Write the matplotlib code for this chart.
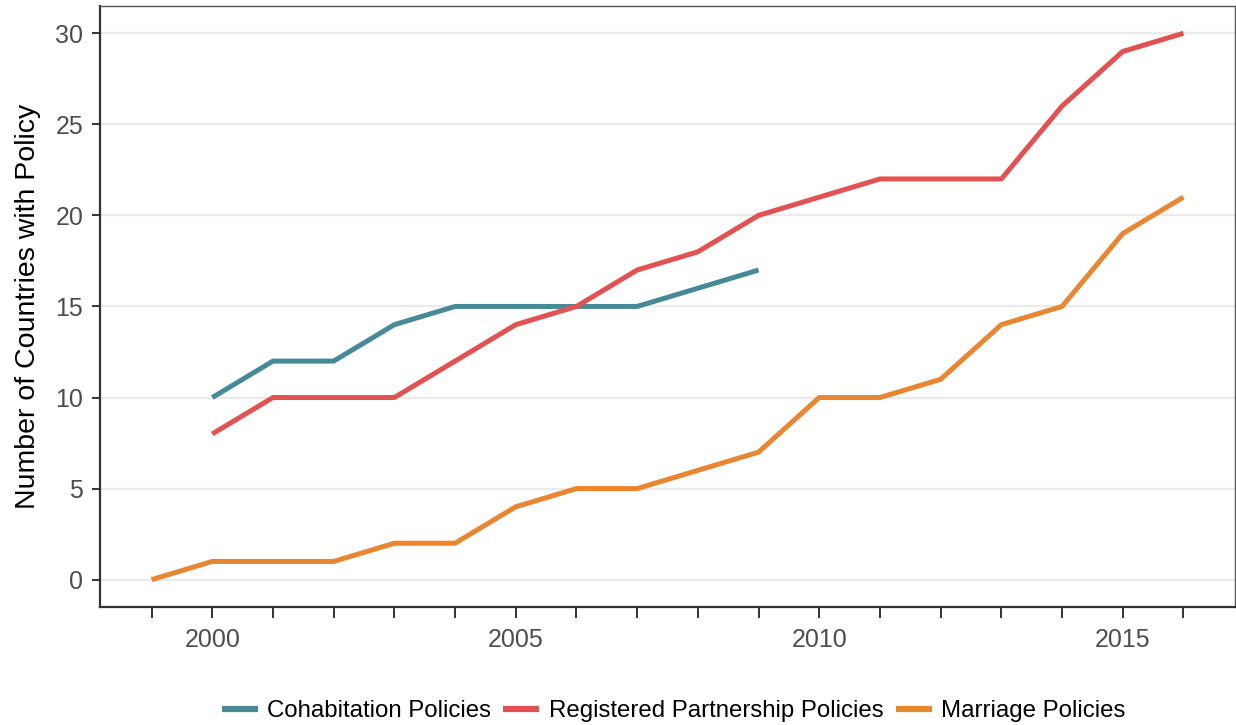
import numpy as np
import matplotlib.pyplot as plt

plt.rcParams['font.family'] = ['Liberation Sans', 'DejaVu Sans']

# data
cohab_years = [2000, 2001, 2002, 2003, 2004, 2005, 2006, 2007, 2008, 2009]
cohab = [10, 12, 12, 14, 15, 15, 15, 15, 16, 17]

reg_years = list(range(2000, 2017))
reg = [8, 10, 10, 10, 12, 14, 15, 17, 18, 20, 21, 22, 22, 22, 26, 29, 30]

marr_years = list(range(1999, 2017))
marr = [0, 1, 1, 1, 2, 2, 4, 5, 5, 6, 7, 10, 10, 11, 14, 15, 19, 21]

labels = ["Cohabitation Policies", "Registered Partnership Policies", "Marriage Policies"]
colors = ["#468A98", "#E35152", "#E98632"]

fig = plt.figure(figsize=(12.36, 7.25), dpi=100)
ax = fig.add_axes([0.0809, 0.1628, 0.9183, 0.829])

for yrs, vals, lab, c in zip([cohab_years, reg_years, marr_years], [cohab, reg, marr], labels, colors):
    ax.plot(yrs, vals, color=c, lw=3.6, label=lab, solid_capstyle='butt')

ax.set_xlim(1998.15, 2016.85)
ax.set_ylim(-1.5, 31.5)
ax.set_xticks([2000, 2005, 2010, 2015])
ax.set_xticks(range(1999, 2017), minor=True)
ax.set_yticks([0, 5, 10, 15, 20, 25, 30])
ax.yaxis.grid(True, color="#EBEBEB", lw=1.6)
ax.set_axisbelow(True)

ax.tick_params(axis='both', which='both', direction='out', color='#333333', width=1.4, labelcolor='#4D4D4D', labelsize=18)
ax.tick_params(axis='x', which='both', length=8, pad=7)
ax.tick_params(axis='y', length=6, pad=6)

for s in ['left', 'bottom']:
    ax.spines[s].set_color('#333333')
    ax.spines[s].set_linewidth(1.6)
for s in ['top', 'right']:
    ax.spines[s].set_color('#555555')
    ax.spines[s].set_linewidth(1.0)

ax.set_ylabel("Number of Countries with Policy", fontsize=20.5, color='black', labelpad=10)

leg = fig.legend(loc='lower center', ncol=3, frameon=False, fontsize=17.3, bbox_to_anchor=(0.545, -0.026),
                 handlelength=1.5, handletextpad=0.4, columnspacing=0.5)
for l in leg.get_lines():
    l.set_linewidth(4.5)

fig.savefig("out.png", dpi=100)
